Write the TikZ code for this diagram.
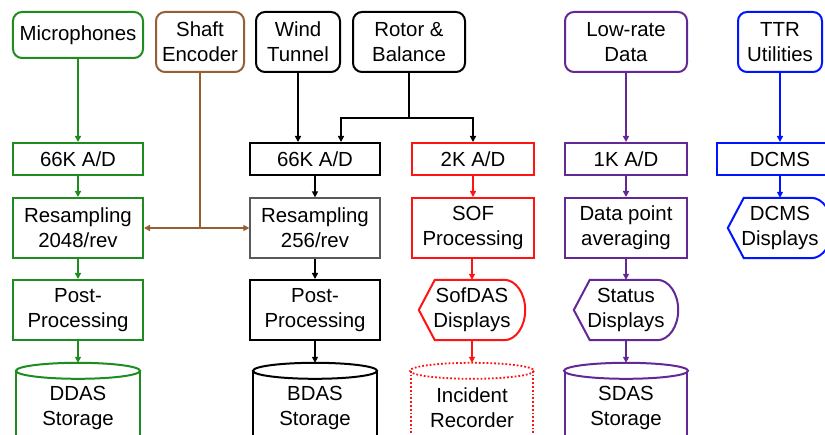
\documentclass[tikz,border=0pt]{standalone}
\usepackage{fontspec}
\setmainfont{Liberation Sans}
\usetikzlibrary{calc,arrows.meta}
\definecolor{cgreen}{RGB}{30,140,30}
\definecolor{cred}{RGB}{255,20,20}
\definecolor{cpurple}{RGB}{100,40,150}
\definecolor{cblue}{RGB}{0,20,255}
\definecolor{cbrown}{RGB}{150,95,50}
\tikzset{
  txt/.style={font=\fontsize{20.4bp}{25bp}\selectfont, align=center, inner sep=0pt},
  src/.style={txt, draw, rounded corners=9bp, line width=2bp},
  box/.style={txt, draw, line width=2bp},
  plain/.style={txt, draw=none},
  arr/.style={line width=2bp, -{Triangle[length=6bp,width=6bp]}},
  ln/.style={line width=2bp},
  sz/.style n args={2}{minimum width=#1bp, minimum height=#2bp},
}
\newcommand\DispShape[2]{%
  \draw[#2, line width=2bp, fill=white] (#1.west) -- ($(#1.north west)+(16,0)$) -- ($(#1.north east)+(-21,0)$)
    .. controls ($(#1.north east)+(-9.4,0)$) and ($(#1.east)+(0,-16.6)$) .. (#1.east)
    .. controls ($(#1.east)+(0,16.6)$) and ($(#1.south east)+(-9.4,0)$) .. ($(#1.south east)+(-21,0)$)
    -- ($(#1.south west)+(16,0)$) -- cycle;}
\newcommand\CylShape[2]{%
  \draw[#2, fill=white] ($(#1.north west)+(0,8)$) -- ($(#1.south west)+(0,8)$)
    ($(#1.north east)+(0,8)$) -- ($(#1.south east)+(0,8)$);
  \draw[#2] ($(#1.north)+(0,8)$) ellipse [x radius=62, y radius=8];}
% vertical connector with exactly equal x at both ends
\newcommand\VArr[3]{\draw[arr, #3] (#1.south) -- (#1.south |- #2.north);}
\begin{document}
\begin{tikzpicture}[x=1bp,y=-1bp]
\useasboundingbox (0,0) rectangle (825,435);
\clip (0,0) rectangle (825,435);
% sources
\node[src, draw=cgreen, sz={130}{46}] (mic) at (78,35) {Microphones};
\node[src, draw=cbrown, sz={88}{60}] (shaft) at (200,42) {Shaft\\Encoder};
\node[src, draw=black, sz={84}{60}] (wind) at (298,42) {Wind\\Tunnel};
\node[src, draw=black, sz={112}{60}] (rotor) at (409,42) {Rotor \&\\Balance};
\node[src, draw=cpurple, sz={122}{60}] (low) at (626,42) {Low-rate\\Data};
\node[src, draw=cblue, sz={84}{60}] (ttr) at (780,42) {TTR\\Utilities};
% A/D row
\node[box, draw=cgreen, sz={130}{32}] (adg) at (78,159) {66K A/D};
\node[box, draw=black, sz={130}{32}] (adb) at (315,159) {66K A/D};
\node[box, draw=cred, sz={122}{32}] (ad2) at (473,159) {2K A/D};
\node[box, draw=cpurple, sz={122}{32}] (ad1) at (626,159) {1K A/D};
\node[box, draw=cblue, sz={126}{32}] (dcms) at (780,159) {DCMS};
% processing row
\node[box, draw=cgreen, sz={130}{60}] (resg) at (78,228) {Resampling\\2048/rev};
\node[box, draw=black!65, line width=1.3bp, sz={130}{60}] (resb) at (315,228) {Resampling\\256/rev};
\node[box, draw=cred, sz={122}{60}] (sof) at (473,228) {SOF\\Processing};
\node[box, draw=cpurple, sz={122}{60}] (dpa) at (626,228) {Data point\\averaging};
\node[plain, sz={104}{60}] (dcmsd) at (780,228) {};
\DispShape{dcmsd}{cblue}
\node[plain] at (dcmsd) {DCMS\\Displays};
% post row
\node[box, draw=cgreen, sz={130}{60}] (postg) at (78,310) {Post-\\Processing};
\node[box, draw=black, sz={130}{60}] (postb) at (315,310) {Post-\\Processing};
\node[plain, sz={106}{60}] (sofd) at (472,310) {};
\DispShape{sofd}{cred}
\node[plain] at (sofd) {SofDAS\\Displays};
\node[plain, sz={104}{60}] (stat) at (626,310) {};
\DispShape{stat}{cpurple}
\node[plain] at (stat) {Status\\Displays};
% storage row
\node[plain, sz={124}{88}] (ddas) at (78,407) {};
\CylShape{ddas}{cgreen, line width=2bp}
\node[plain] at ($(ddas)+(0,1)$) {DDAS\\Storage};
\node[plain, sz={124}{88}] (bdas) at (315,407) {};
\CylShape{bdas}{black, line width=2bp}
\node[plain] at ($(bdas)+(0,1)$) {BDAS\\Storage};
\node[plain, sz={122}{88}] (inc) at (472,407) {};
\CylShape{inc}{cred, line width=1.8bp, dotted}
\node[plain] at ($(inc)+(0,1)$) {Incident\\Recorder};
\node[plain, sz={122}{88}] (sdas) at (626,407) {};
\CylShape{sdas}{cpurple, line width=2bp}
\node[plain] at ($(sdas)+(0,1)$) {SDAS\\Storage};
% green column
\VArr{mic}{adg}{cgreen}
\VArr{adg}{resg}{cgreen}
\VArr{resg}{postg}{cgreen}
\VArr{postg}{ddas}{cgreen}
% shaft encoder
\coordinate (sj) at (shaft.south |- resg.east);
\draw[ln, cbrown] (shaft.south) -- (sj);
\draw[arr, cbrown] (sj) -- (sj -| resg.east);
\draw[arr, cbrown] (sj) -- (sj -| resb.west);
% black column
\draw[arr] (wind.south) -- (wind.south |- adb.north);
\coordinate (rj) at (rotor.south |- 0,118);
\draw[ln] (rotor.south) -- (rj);
\draw[arr] (rj) -| ($(adb.north)+(26,0)$);
\draw[arr] (rj) -| (ad2.north);
\VArr{adb}{resb}{black}
\VArr{resb}{postb}{black}
\VArr{postb}{bdas}{black}
% red column
\VArr{ad2}{sof}{cred}
\draw[arr, cred] (sofd.north |- sof.south) -- (sofd.north);
\VArr{sofd}{inc}{cred}
% purple column
\VArr{low}{ad1}{cpurple}
\VArr{ad1}{dpa}{cpurple}
\VArr{dpa}{stat}{cpurple}
\VArr{stat}{sdas}{cpurple}
% blue column
\VArr{ttr}{dcms}{cblue}
\VArr{dcms}{dcmsd}{cblue}
\end{tikzpicture}
\end{document}
